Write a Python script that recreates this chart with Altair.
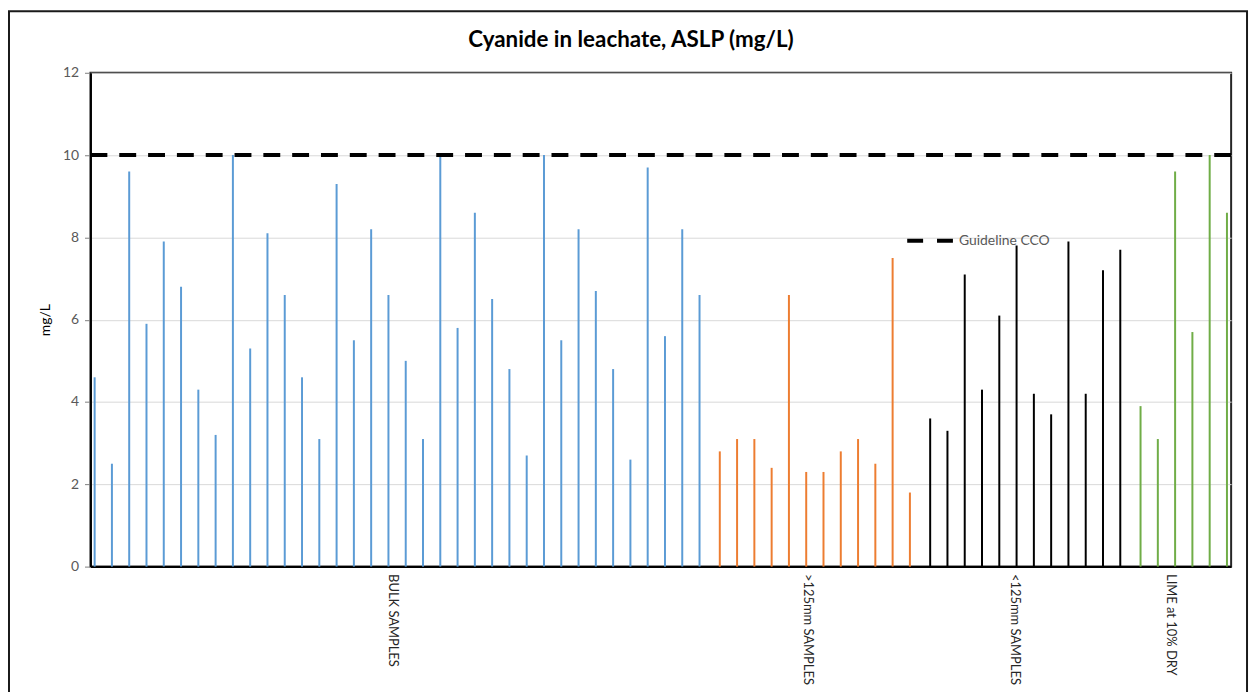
import altair as alt
import pandas as pd

# ---- data ----
groups = ["BULK SAMPLES", ">125mm SAMPLES", "<125mm SAMPLES", "LIME at 10% DRY"]
bulk = [4.6, 2.5, 9.6, 5.9, 7.9, 6.8, 4.3, 3.2, 10.0, 5.3, 8.1, 6.6, 4.6, 3.1, 9.3, 5.5, 8.2, 6.6,
        5.0, 3.1, 10.0, 5.8, 8.6, 6.5, 4.8, 2.7, 10.0, 5.5, 8.2, 6.7, 4.8, 2.6, 9.7, 5.6, 8.2, 6.6]
coarse = [2.8, 3.1, 3.1, 2.4, 6.6, 2.3, 2.3, 2.8, 3.1, 2.5, 7.5, 1.8]
fine = [3.6, 3.3, 7.1, 4.3, 6.1, 7.8, 4.2, 3.7, 7.9, 4.2, 7.2, 7.7]
lime = [3.9, 3.1, 9.6, 5.7, 10.0, 8.6]
guideline_value = 10
guideline_name = "Guideline CCO"

series = [bulk, coarse, fine, lime]
rows = []
label_at = {}
i = 0
for g, vals in zip(groups, series):
    label_at[i + (len(vals) - 1) // 2] = g
    for v in vals:
        rows.append({"idx": i, "group": g, "value": v})
        i += 1
df = pd.DataFrame(rows)

expr = "''"
for k, lab in sorted(label_at.items(), reverse=True):
    expr = f"datum.value == {k} ? '{lab}' : ({expr})"

FONT = "Lato"
colors = ["#5B9BD5", "#ED7D31", "#000000", "#70AD47"]

bars = alt.Chart(df).mark_bar().encode(
    x=alt.X("idx:O",
            scale=alt.Scale(paddingInner=0.31, paddingOuter=0.155),
            axis=alt.Axis(title=None, labelExpr=expr, labelAngle=90, labelAlign="left",
                          labelBaseline="middle", ticks=False, labelPadding=7,
                          labelOverlap=False, labelLimit=0, labelFont=FONT, labelFontSize=13,
                          labelColor="#262626", domainColor="#000000", domainWidth=2)),
    xOffset=alt.XOffset("group:N", scale=alt.Scale(domain=groups, paddingInner=0, paddingOuter=0)),
    y=alt.Y("value:Q",
            scale=alt.Scale(domain=[0, 12], nice=False),
            axis=alt.Axis(title="mg/L", values=[0, 2, 4, 6, 8, 10, 12], tickSize=6,
                          tickColor="#7f7f7f", labelFont=FONT, labelFontSize=14,
                          labelColor="#595959", labelPadding=6, titleFont=FONT,
                          titleFontSize=14, titleFontWeight="normal", titleColor="#000000",
                          titlePadding=10, gridColor="#d9d9d9", gridWidth=1,
                          domainColor="#000000", domainWidth=2)),
    color=alt.Color("group:N", scale=alt.Scale(domain=groups, range=colors), legend=None),
    size=alt.Size("group:N", scale=alt.Scale(domain=groups, range=[2, 2, 3, 2]), legend=None),
)

guide = alt.Chart(pd.DataFrame({"v": [guideline_value], "name": [guideline_name]})).mark_rule(
    strokeDash=[17, 12], strokeWidth=4
).encode(
    y="v:Q",
    color=alt.Color("name:N", scale=alt.Scale(domain=[guideline_name], range=["#000000"]),
                    legend=alt.Legend(title=None, orient="none", legendX=820, legendY=144,
                                      symbolType="stroke", symbolSize=2116, symbolStrokeWidth=4,
                                      symbolDash=[16, 14], labelFont=FONT, labelFontSize=14,
                                      labelColor="#595959", labelOffset=4)),
)

frame = alt.Chart(pd.DataFrame({"a": [0]})).mark_rect(filled=False, stroke="#1a1a1a", strokeWidth=2).encode(
    x=alt.value(-82), x2=alt.value(1164), y=alt.value(-62), y2=alt.value(700)
)

chart = alt.layer(frame, bars, guide).resolve_scale(color="independent").properties(
    width=1148, height=497,
    title=alt.TitleParams("Cyanide in leachate, ASLP (mg/L)", font=FONT, fontSize=22.5,
                          fontWeight="bold", color="#000000", anchor="middle", frame="group",
                          dx=-30, offset=-42),
    autosize=alt.AutoSizeParams(type="none"),
    padding={"left": 83, "top": 63, "right": 20, "bottom": 124},
).configure(background="white").configure_view(stroke="#262626", strokeWidth=2)

chart.save("out.html", embed_options={"renderer": "svg", "actions": False})
